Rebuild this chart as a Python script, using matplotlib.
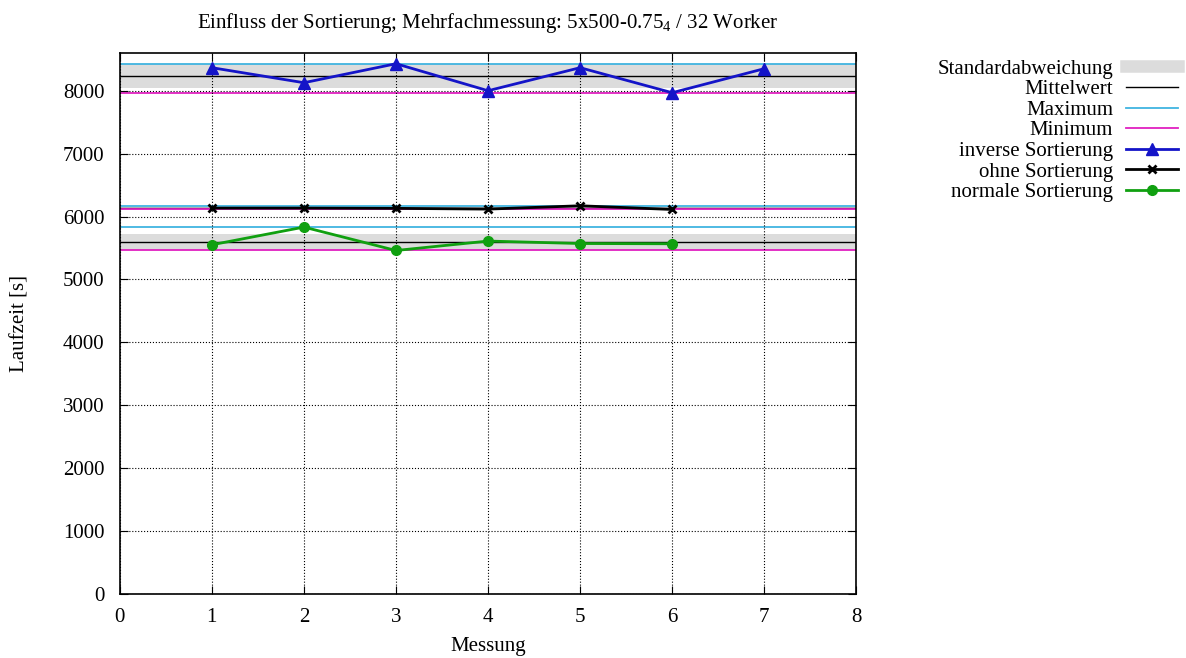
import matplotlib
matplotlib.use('Agg')
import matplotlib.pyplot as plt
from matplotlib.lines import Line2D
import numpy as np

plt.rcParams.update({'font.family': 'Liberation Serif',
                     'mathtext.fontset': 'custom',
                     'mathtext.rm': 'Liberation Serif',
                     'mathtext.it': 'Liberation Serif:italic',
                     'font.size': 15})

# Messwerte je Sortierung (Laufzeit in s)
inv_x = [1, 2, 3, 4, 5, 6, 7]
inv_y = [8366, 8127, 8429, 8000, 8366, 7968, 8350]
ohne_x = [1, 2, 3, 4, 5, 6]
ohne_y = [6134, 6134, 6130, 6118, 6171, 6112]
norm_x = [1, 2, 3, 4, 5, 6]
norm_y = [5551, 5832, 5460, 5610, 5571, 5567]

c_inv = '#1414c8'
c_ohne = '#000000'
c_norm = '#10a010'
c_max = '#40b4e0'
c_min = '#e020c0'
c_std = '#dcdcdc'

fig = plt.figure(figsize=(11.86, 6.58), dpi=100)
ax = fig.add_axes([0.101, 0.0973, 0.621, 0.8222])

xs = [0, 8]
for y in [inv_y, ohne_y, norm_y]:
    m = np.mean(y)
    s = np.std(y, ddof=1)
    ax.fill_between(xs, m - s, m + s, color=c_std, lw=0, zorder=1)
    ax.plot(xs, [m, m], color='black', lw=1, zorder=2)
    ax.plot(xs, [max(y), max(y)], color=c_max, lw=1.3, zorder=2)
    ax.plot(xs, [min(y), min(y)], color=c_min, lw=1.3, zorder=2)

ax.plot(inv_x, inv_y, color=c_inv, lw=2, marker='^', ms=8, zorder=3)
ax.plot(ohne_x, ohne_y, color=c_ohne, lw=2, marker='x', ms=6, mew=2, zorder=3)
ax.plot(norm_x, norm_y, color=c_norm, lw=2, marker='o', ms=7, zorder=3)

ax.set_xlim(0, 8)
ax.set_ylim(0, 8600)
ax.set_xticks(range(0, 9))
ax.set_yticks(range(0, 9000, 1000))
ax.tick_params(direction='in', top=True, right=True, length=6)
ax.tick_params(axis='y', pad=11)
ax.tick_params(axis='x', pad=10)
ax.grid(True, color='black', linestyle=':', linewidth=0.8)
ax.set_axisbelow(False)
for sp in ax.spines.values():
    sp.set_linewidth(1.2)

ax.set_xlabel('Messung', labelpad=7)
ax.set_ylabel('Laufzeit [s]', labelpad=24)
ax.set_title('Einfluss der Sortierung; Mehrfachmessung: 5x500-0.75$_4$ / 32 Worker',
             fontsize=15, pad=18)

handles = [Line2D([], [], color=c_std, lw=9),
           Line2D([], [], color='black', lw=1),
           Line2D([], [], color=c_max, lw=1.3),
           Line2D([], [], color=c_min, lw=1.3),
           Line2D([], [], color=c_inv, lw=2, marker='^', ms=8),
           Line2D([], [], color=c_ohne, lw=2, marker='x', ms=6, mew=2),
           Line2D([], [], color=c_norm, lw=2, marker='o', ms=7)]
labels = ['Standardabweichung', 'Mittelwert', 'Maximum', 'Minimum',
          'inverse Sortierung', 'ohne Sortierung', 'normale Sortierung']
fig.legend(handles, labels, loc='upper right', bbox_to_anchor=(1.0, 0.923),
           frameon=False, markerfirst=False, handlelength=2.5,
           labelspacing=0.05, handletextpad=0.6, borderaxespad=0)

fig.savefig('out.png', dpi=100)
